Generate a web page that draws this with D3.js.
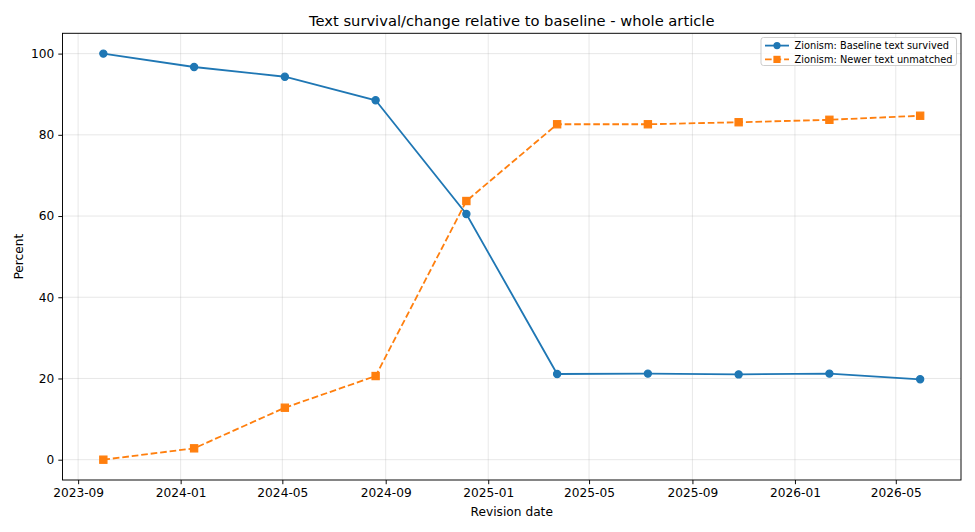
<!DOCTYPE html>
<html><head><meta charset="utf-8">
<script src="https://cdn.jsdelivr.net/npm/d3@7"></script>
<style>body{margin:0;background:#fff}svg{display:block;font-family:"DejaVu Sans",sans-serif}</style>
</head><body><svg id="c" width="975" height="532"></svg>
<script>
const dates = ["2023-10-01","2024-01-17","2024-05-04","2024-08-20","2024-12-06","2025-03-24","2025-07-10","2025-10-26","2026-02-11","2026-05-30"];
const baselineSurvived = [100, 96.7, 94.3, 88.5, 60.5, 21.1, 21.2, 21.0, 21.2, 19.8];
const newerUnmatched = [0, 2.8, 12.8, 20.6, 63.7, 82.6, 82.6, 83.1, 83.7, 84.7];
const xTicks = ["2023-09","2024-01","2024-05","2024-09","2025-01","2025-05","2025-09","2026-01","2026-05"];
const yTicks = [0, 20, 40, 60, 80, 100];
const seriesNames = ["Zionism: Baseline text survived","Zionism: Newer text unmatched"];

const parse = d3.utcParse("%Y-%m-%d");
const parseM = d3.utcParse("%Y-%m");
const svg = d3.select("#c");
const L = 62.5, R = 961, T = 33.3, B = 480;
const dts = dates.map(parse);
const ext = d3.extent(dts);
const span = ext[1] - ext[0];
const x = d3.scaleUtc().domain([new Date(+ext[0] - span*0.05), new Date(+ext[1] + span*0.05)]).range([L, R]);
const y = d3.scaleLinear().domain([-5, 105]).range([B, T]);

// grid
const g = svg.append("g");
xTicks.forEach(t => {
  const xx = x(parseM(t));
  g.append("line").attr("x1", xx).attr("x2", xx).attr("y1", T).attr("y2", B).attr("stroke", "#b0b0b0").attr("stroke-opacity", 0.3).attr("stroke-width", 0.96);
});
yTicks.forEach(t => {
  g.append("line").attr("x1", L).attr("x2", R).attr("y1", y(t)).attr("y2", y(t)).attr("stroke", "#b0b0b0").attr("stroke-opacity", 0.3).attr("stroke-width", 0.96);
});

// axes
const xAxis = d3.axisBottom(x).tickValues(xTicks.map(parseM)).tickFormat(d3.utcFormat("%Y-%m")).tickSize(4.2).tickPadding(4);
const yAxis = d3.axisLeft(y).tickValues(yTicks).tickSize(4.2).tickPadding(4);
const ax = svg.append("g").attr("transform", `translate(0,${B})`).call(xAxis);
const ay = svg.append("g").attr("transform", `translate(${L},0)`).call(yAxis);
[ax, ay].forEach(a => {
  a.select(".domain").remove();
  a.selectAll("text").attr("font-size", 12.2).attr("fill", "#000").attr("font-family", "DejaVu Sans");
  a.selectAll("line").attr("stroke", "#000").attr("stroke-width", 0.96);
});
svg.append("rect").attr("x", L).attr("y", T).attr("width", R - L).attr("height", B - T).attr("fill", "none").attr("stroke", "#000").attr("stroke-width", 0.96);

// lines
const line = d3.line().x((d, i) => x(dts[i])).y(d => y(d));
svg.append("path").datum(baselineSurvived).attr("d", line).attr("fill", "none").attr("stroke", "#1f77b4").attr("stroke-width", 1.8);
svg.append("path").datum(newerUnmatched).attr("d", line).attr("fill", "none").attr("stroke", "#ff7f0e").attr("stroke-width", 1.8).attr("stroke-dasharray", "6.66,2.88");
svg.append("g").selectAll("circle").data(baselineSurvived).join("circle")
  .attr("cx", (d, i) => x(dts[i])).attr("cy", d => y(d)).attr("r", 3.6).attr("fill", "#1f77b4").attr("stroke", "#1f77b4").attr("stroke-width", 1.2);
svg.append("g").selectAll("rect").data(newerUnmatched).join("rect")
  .attr("x", (d, i) => x(dts[i]) - 3.6).attr("y", d => y(d) - 3.6).attr("width", 7.2).attr("height", 7.2).attr("fill", "#ff7f0e").attr("stroke", "#ff7f0e").attr("stroke-width", 1.2);

// title and labels
svg.append("text").attr("x", (L + R) / 2).attr("y", 25.8).attr("text-anchor", "middle").attr("font-size", 14.7).text("Text survival/change relative to baseline - whole article");
svg.append("text").attr("x", (L + R) / 2).attr("y", 516).attr("text-anchor", "middle").attr("font-size", 12.2).text("Revision date");
svg.append("text").attr("transform", `translate(23,${(T + B) / 2}) rotate(-90)`).attr("text-anchor", "middle").attr("font-size", 12.2).text("Percent");

// legend
const lg = svg.append("g");
lg.append("rect").attr("x", 761).attr("y", 37.5).attr("width", 195.5).attr("height", 28).attr("rx", 2.5).attr("fill", "#fff").attr("fill-opacity", 0.8).attr("stroke", "#cccccc").attr("stroke-width", 0.96);
const rows = [45.6, 59.4];
lg.append("line").attr("x1", 765).attr("x2", 789).attr("y1", rows[0]).attr("y2", rows[0]).attr("stroke", "#1f77b4").attr("stroke-width", 1.8);
lg.append("circle").attr("cx", 777).attr("cy", rows[0]).attr("r", 3.6).attr("fill", "#1f77b4");
lg.append("line").attr("x1", 765).attr("x2", 789).attr("y1", rows[1]).attr("y2", rows[1]).attr("stroke", "#ff7f0e").attr("stroke-width", 1.8).attr("stroke-dasharray", "6.66,2.88");
lg.append("rect").attr("x", 773.4).attr("y", rows[1] - 3.6).attr("width", 7.2).attr("height", 7.2).attr("fill", "#ff7f0e");
seriesNames.forEach((n, i) => {
  lg.append("text").attr("x", 794.5).attr("y", rows[i] + 3.4).attr("font-size", 9.8).text(n);
});
</script></body></html>
